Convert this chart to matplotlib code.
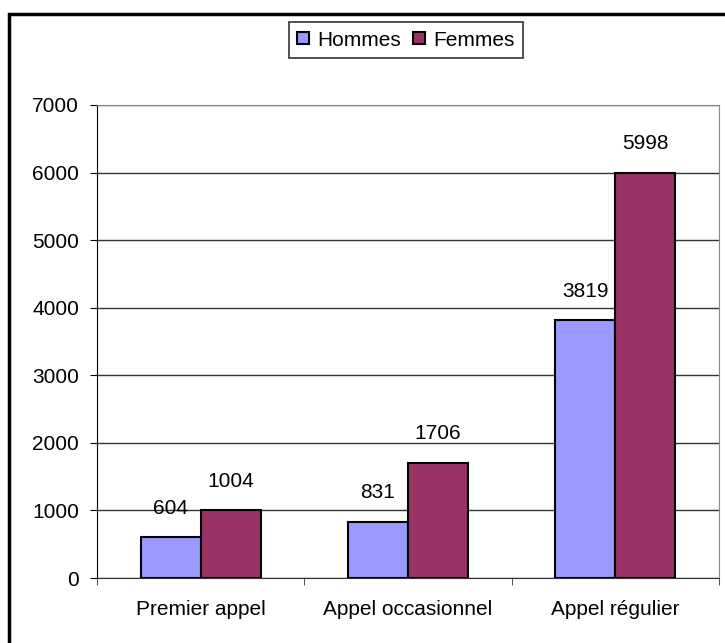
import matplotlib.pyplot as plt
import numpy as np
from matplotlib.patches import Rectangle

plt.rcParams['font.family'] = ['Liberation Sans', 'DejaVu Sans']

categories = ["Premier appel", "Appel occasionnel", "Appel régulier"]
hommes = [604, 831, 3819]
femmes = [1004, 1706, 5998]

fig = plt.figure(figsize=(7.25, 6.43), dpi=100)
ax = fig.add_axes([97/725, 1-578/643, 622/725, 473/643])

x = np.arange(len(categories))
w = 0.29
b1 = ax.bar(x - w/2, hommes, w, color="#9999FF", edgecolor="black", linewidth=1.5, label="Hommes", zorder=3)
b2 = ax.bar(x + w/2, femmes, w, color="#993366", edgecolor="black", linewidth=1.5, label="Femmes", zorder=3)

for bars in (b1, b2):
    for r in bars:
        ax.annotate(str(int(r.get_height())), (r.get_x() + r.get_width()/2, r.get_height()),
                    xytext=(0, 14), textcoords="offset points", ha="center", va="bottom", fontsize=15)

ax.set_xlim(-0.5, 2.5)
ax.set_ylim(0, 7000)
ax.set_yticks(range(0, 7001, 1000))
ax.yaxis.grid(True, color="#333333", linewidth=1, zorder=0)
ax.set_xticks(x)
ax.set_xticklabels(categories)
ax.set_xticks([-0.5, 0.5, 1.5, 2.5], minor=True)
ax.tick_params(axis="x", which="major", length=0, pad=16, labelsize=15)
ax.tick_params(axis="x", which="minor", length=5, color="#333333", direction="out")
ax.tick_params(axis="y", length=5, direction="out", labelsize=15, pad=8)

ax.spines["left"].set_color("black")
ax.spines["bottom"].set_color("#333333")
ax.spines["top"].set_color("#888888")
ax.spines["right"].set_color("#888888")

leg = ax.legend(loc="center", bbox_to_anchor=(406/725, 1-40/643), bbox_transform=fig.transFigure,
                ncol=2, frameon=True, fancybox=False, fontsize=15, handlelength=0.55, handleheight=0.55,
                handletextpad=0.4, columnspacing=0.6, borderpad=0.4, borderaxespad=0)
leg.get_frame().set_edgecolor("black")
leg.get_frame().set_linewidth(1.2)

# outer chart border (cut at right and bottom)
fig.patches.append(Rectangle((9/725, -0.1), 1.2, 1 - 14/643 + 0.1, transform=fig.transFigure,
                             fill=False, edgecolor="black", linewidth=2.5))

fig.savefig("out.png", dpi=100)
